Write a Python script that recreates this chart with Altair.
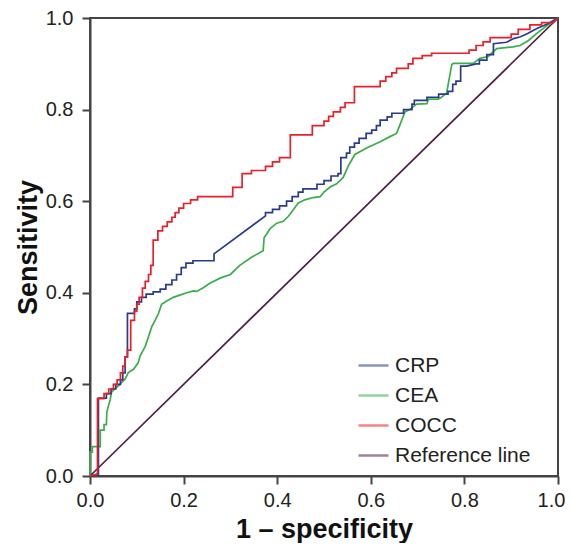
import altair as alt
import pandas as pd

# ROC curves (x = 1 - specificity, y = sensitivity)
crp_x = [0, 0.016, 0.018, 0.018, 0.035, 0.035, 0.045, 0.045, 0.055, 0.055, 0.065, 0.065, 0.07, 0.07,
         0.075, 0.075, 0.08, 0.08, 0.095, 0.095, 0.1, 0.1, 0.11, 0.11, 0.12, 0.12, 0.135, 0.135, 0.15,
         0.15, 0.162, 0.162, 0.175, 0.175, 0.185, 0.185, 0.195, 0.195, 0.205, 0.205, 0.22, 0.22, 0.265,
         0.265, 0.375, 0.375, 0.39, 0.39, 0.405, 0.405, 0.42, 0.42, 0.432, 0.432, 0.445, 0.445, 0.455,
         0.455, 0.485, 0.485, 0.5, 0.5, 0.515, 0.515, 0.53, 0.53, 0.536, 0.536, 0.548, 0.548, 0.555,
         0.555, 0.565, 0.565, 0.575, 0.575, 0.59, 0.59, 0.602, 0.602, 0.612, 0.612, 0.62, 0.62, 0.635,
         0.635, 0.645, 0.645, 0.67, 0.67, 0.688, 0.688, 0.693, 0.693, 0.72, 0.72, 0.745, 0.745, 0.765,
         0.765, 0.775, 0.775, 0.782, 0.782, 0.792, 0.792, 0.805, 0.825, 0.832, 0.832, 0.848, 0.848,
         0.862, 0.862, 0.89, 0.905, 0.92, 0.935, 0.955, 0.977, 1.0]
crp_y = [0, 0.004, 0.004, 0.17, 0.17, 0.18, 0.18, 0.19, 0.19, 0.2, 0.2, 0.21, 0.21, 0.225,
         0.225, 0.26, 0.26, 0.355, 0.355, 0.365, 0.365, 0.38, 0.38, 0.39, 0.39, 0.397, 0.397, 0.402,
         0.402, 0.408, 0.408, 0.418, 0.418, 0.428, 0.428, 0.44, 0.44, 0.455, 0.455, 0.465, 0.465, 0.47,
         0.47, 0.485, 0.568, 0.575, 0.575, 0.582, 0.582, 0.59, 0.59, 0.6, 0.6, 0.61, 0.61, 0.62, 0.62,
         0.627, 0.627, 0.637, 0.637, 0.645, 0.645, 0.655, 0.655, 0.66, 0.66, 0.695, 0.695, 0.705, 0.705,
         0.718, 0.718, 0.727, 0.727, 0.737, 0.737, 0.748, 0.748, 0.755, 0.755, 0.765, 0.765, 0.777,
         0.777, 0.784, 0.784, 0.792, 0.792, 0.8, 0.8, 0.812, 0.812, 0.82, 0.82, 0.827, 0.827, 0.834,
         0.834, 0.84, 0.84, 0.855, 0.855, 0.862, 0.862, 0.895, 0.895, 0.9, 0.9, 0.908, 0.908, 0.92,
         0.92, 0.944, 0.947, 0.955, 0.959, 0.966, 0.977, 0.987, 1.0]

cea_x = [0, 0, 0.005, 0.005, 0.022, 0.022, 0.03, 0.03, 0.035, 0.036, 0.04, 0.043, 0.046, 0.053,
         0.064, 0.075, 0.082, 0.093, 0.103, 0.107, 0.118, 0.125, 0.132, 0.139, 0.146, 0.153, 0.164,
         0.178, 0.192, 0.207, 0.221, 0.228, 0.242, 0.256, 0.278, 0.3, 0.32, 0.346, 0.37, 0.372, 0.385,
         0.399, 0.413, 0.424, 0.434, 0.445, 0.459, 0.477, 0.492, 0.5, 0.513, 0.527, 0.541, 0.552,
         0.566, 0.591, 0.62, 0.641, 0.655, 0.662, 0.673, 0.684, 0.698, 0.72, 0.723, 0.744, 0.751,
         0.762, 0.773, 0.776, 0.819, 0.833, 0.851, 0.869, 0.904, 0.919, 0.937, 0.954, 0.976, 1.0]
cea_y = [0, 0.052, 0.052, 0.064, 0.064, 0.1, 0.1, 0.112, 0.112, 0.14, 0.155, 0.166, 0.183, 0.19,
         0.2, 0.212, 0.226, 0.233, 0.247, 0.262, 0.283, 0.304, 0.326, 0.34, 0.354, 0.375, 0.382,
         0.39, 0.395, 0.4, 0.404, 0.403, 0.411, 0.421, 0.432, 0.44, 0.46, 0.478, 0.492, 0.52, 0.54,
         0.552, 0.556, 0.567, 0.581, 0.596, 0.603, 0.608, 0.61, 0.62, 0.631, 0.638, 0.652, 0.677,
         0.702, 0.716, 0.73, 0.741, 0.748, 0.766, 0.795, 0.801, 0.812, 0.813, 0.823, 0.823, 0.827,
         0.836, 0.898, 0.901, 0.901, 0.912, 0.916, 0.933, 0.937, 0.94, 0.951, 0.966, 0.983, 1.0]

cocc_x = [0, 0.016, 0.016, 0.03, 0.03, 0.04, 0.04, 0.05, 0.05, 0.058, 0.058, 0.065, 0.065, 0.07,
          0.07, 0.075, 0.075, 0.08, 0.08, 0.087, 0.087, 0.095, 0.095, 0.1, 0.1, 0.105, 0.105, 0.112,
          0.112, 0.118, 0.118, 0.125, 0.125, 0.13, 0.13, 0.135, 0.135, 0.145, 0.145, 0.155, 0.155,
          0.165, 0.165, 0.175, 0.175, 0.182, 0.182, 0.19, 0.19, 0.2, 0.2, 0.215, 0.215, 0.23, 0.23,
          0.305, 0.305, 0.325, 0.325, 0.345, 0.345, 0.375, 0.375, 0.39, 0.39, 0.405, 0.405, 0.428,
          0.428, 0.475, 0.475, 0.5, 0.5, 0.51, 0.51, 0.52, 0.52, 0.535, 0.535, 0.545, 0.545, 0.565,
          0.565, 0.62, 0.62, 0.632, 0.632, 0.645, 0.645, 0.655, 0.655, 0.68, 0.68, 0.69, 0.69, 0.71,
          0.71, 0.73, 0.73, 0.81, 0.81, 0.825, 0.825, 0.84, 0.84, 0.855, 0.855, 0.9, 0.9, 0.915,
          0.915, 0.94, 0.94, 0.965, 0.965, 0.99, 1.0]
cocc_y = [0, 0.004, 0.169, 0.169, 0.18, 0.18, 0.19, 0.19, 0.2, 0.2, 0.21, 0.21, 0.225, 0.225,
          0.24, 0.24, 0.26, 0.26, 0.275, 0.275, 0.34, 0.34, 0.36, 0.36, 0.375, 0.375, 0.39, 0.39,
          0.41, 0.41, 0.425, 0.425, 0.44, 0.44, 0.46, 0.46, 0.515, 0.515, 0.535, 0.535, 0.545,
          0.545, 0.555, 0.555, 0.565, 0.565, 0.575, 0.575, 0.585, 0.585, 0.595, 0.595, 0.603, 0.603,
          0.61, 0.61, 0.63, 0.63, 0.66, 0.66, 0.667, 0.667, 0.676, 0.676, 0.686, 0.686, 0.695, 0.695,
          0.745, 0.745, 0.765, 0.765, 0.775, 0.775, 0.785, 0.785, 0.795, 0.795, 0.805, 0.805, 0.815,
          0.815, 0.85, 0.85, 0.862, 0.862, 0.872, 0.872, 0.88, 0.88, 0.89, 0.89, 0.9, 0.9, 0.912,
          0.912, 0.918, 0.918, 0.923, 0.923, 0.93, 0.93, 0.94, 0.94, 0.948, 0.948, 0.957, 0.957,
          0.965, 0.965, 0.975, 0.975, 0.985, 0.985, 0.99, 0.99, 1.0]

ref_x = [0.0, 1.0]
ref_y = [0.0, 1.0]

tick_values = [0.0, 0.2, 0.4, 0.6, 0.8, 1.0]
series_names = ["CRP", "CEA", "COCC", "Reference line"]
series_colors = ["#2c3a8c", "#3aae4a", "#e8202a", "#4e2046"]

rows = []
for layer, (name, xs, ys) in enumerate([("Reference line", ref_x, ref_y), ("CEA", cea_x, cea_y),
                                        ("CRP", crp_x, crp_y), ("COCC", cocc_x, cocc_y)]):
    for i, (xv, yv) in enumerate(zip(xs, ys)):
        rows.append({"series": name, "x": xv, "y": yv, "idx": i, "layer": layer})
df = pd.DataFrame(rows).sort_values(["layer", "idx"]).reset_index(drop=True)

FONT = "Liberation Sans"

chart = alt.Chart(df).mark_line(strokeWidth=1.7).encode(
    x=alt.X("x:Q", scale=alt.Scale(domain=[0, 1], nice=False),
            axis=alt.Axis(values=tick_values, format=".1f", labelFlush=False,
                          labelOffset={"condition": {"test": "datum.value >= 1", "value": -7},
                                       "value": 0},
                          labelPadding=6, title="1 – specificity", titlePadding=6)),
    y=alt.Y("y:Q", scale=alt.Scale(domain=[0, 1], nice=False),
            axis=alt.Axis(values=tick_values, format=".1f", labelFlush=False,
                          labelPadding=9, title="Sensitivity", titlePadding=3)),
    color=alt.Color("series:N",
                    scale=alt.Scale(domain=series_names, range=series_colors),
                    legend=alt.Legend(title=None, orient="none", legendX=267, legendY=331,
                                      symbolType="stroke", symbolSize=900,
                                      symbolStrokeWidth=2.5, symbolOpacity=0.55,
                                      labelFontSize=21, labelFont=FONT, labelColor="#222",
                                      labelOffset=5, rowPadding=3, padding=0)),
    detail="series:N",
    order=alt.Order("idx:Q"),
).properties(
    width=468, height=458,
    padding={"left": 82, "top": 10, "right": 7, "bottom": 67},
    autosize=alt.AutoSizeParams(type="none"),
).configure_view(
    stroke="#444", strokeWidth=2
).configure_axis(
    grid=False,
    labelFont=FONT, labelFontSize=20, labelColor="#222",
    titleFont=FONT, titleFontSize=27, titleFontWeight="bold", titleColor="#111",
    domainColor="#444", domainWidth=2,
    tickColor="#444", tickWidth=2, tickSize=8,
)

chart.save("out.html", embed_options={"renderer": "svg", "actions": False})
